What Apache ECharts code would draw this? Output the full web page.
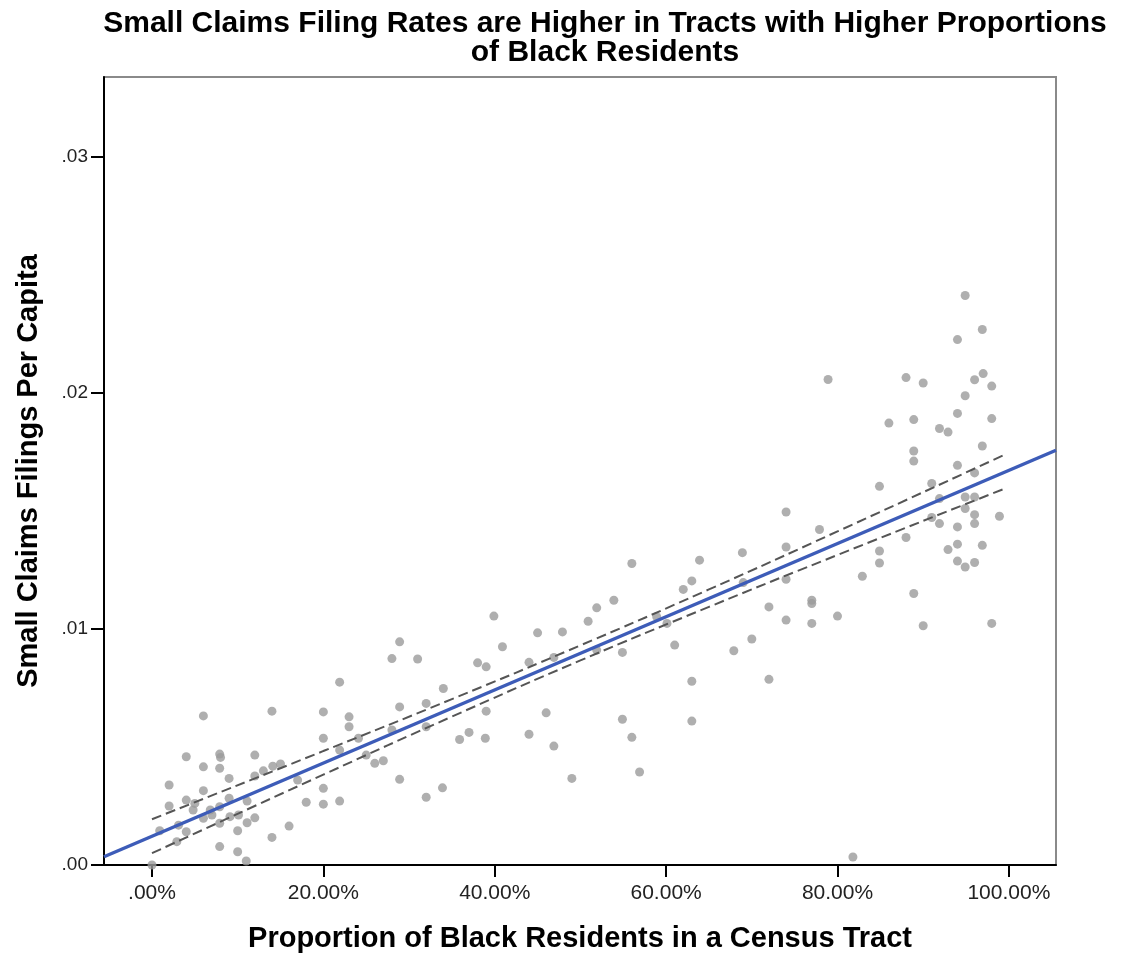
<!DOCTYPE html>
<html>
<head>
<meta charset="utf-8">
<script src="https://cdn.jsdelivr.net/npm/echarts@6/dist/echarts.min.js"></script>
<style>
html,body{margin:0;padding:0;background:#fff;}
#chart{width:1140px;height:959px;}
</style>
</head>
<body>
<div id="chart"></div>
<script>
// Scatter data: proportion of Black residents (x) and filings per capita (y)
const xVals = [
0.000,0.009,0.020,0.020,0.029,0.031,0.040,0.040,0.040,0.048,
0.050,0.060,0.060,0.060,0.060,0.068,0.070,0.079,0.080,0.079,
0.079,0.079,0.079,0.090,0.090,0.091,0.100,0.100,0.101,0.111,
0.111,0.110,0.120,0.120,0.120,0.130,0.140,0.141,0.140,0.150,
0.160,0.170,0.180,0.200,0.200,0.200,0.200,0.219,0.219,0.219,
0.230,0.230,0.241,0.250,0.260,0.270,0.280,0.280,0.289,0.289,
0.289,0.310,0.320,0.320,0.320,0.340,0.339,0.359,0.370,0.380,
0.390,0.390,0.389,0.399,0.409,0.440,0.440,0.450,0.460,0.469,
0.469,0.479,0.490,0.509,0.519,0.519,0.539,0.549,0.549,0.560,
0.560,0.569,0.589,0.601,0.610,0.620,0.630,0.639,0.630,0.630,
0.679,0.689,0.690,0.700,0.720,0.720,0.740,0.740,0.740,0.740,
0.770,0.770,0.770,0.779,0.789,0.800,0.818,0.829,0.849,0.849,
0.849,0.860,0.880,0.880,0.889,0.889,0.889,0.889,0.900,0.900,
0.910,0.910,0.919,0.919,0.919,0.929,0.929,0.940,0.940,0.940,
0.940,0.940,0.940,0.949,0.949,0.949,0.949,0.949,0.960,0.960,
0.960,0.960,0.960,0.960,0.969,0.970,0.969,0.969,0.980,0.980,
0.980,0.989
];
const yVals = [
0.00000,0.00145,0.00339,0.00250,0.00099,0.00169,0.00459,0.00275,0.00141,0.00233,
0.00261,0.00632,0.00416,0.00315,0.00198,0.00233,0.00212,0.00470,0.00456,0.00410,
0.00247,0.00177,0.00078,0.00367,0.00283,0.00205,0.00145,0.00056,0.00212,0.00271,
0.00179,0.00017,0.00466,0.00377,0.00200,0.00399,0.00652,0.00419,0.00117,0.00428,
0.00165,0.00360,0.00266,0.00649,0.00537,0.00325,0.00258,0.00487,0.00271,0.00775,
0.00628,0.00586,0.00537,0.00466,0.00431,0.00442,0.00875,0.00572,0.00946,0.00670,
0.00363,0.00873,0.00685,0.00586,0.00287,0.00748,0.00327,0.00532,0.00562,0.00857,
0.00840,0.00652,0.00537,0.01055,0.00925,0.00859,0.00554,0.00984,0.00645,0.00880,
0.00504,0.00988,0.00367,0.01033,0.01090,0.00911,0.01122,0.00901,0.00618,0.01278,
0.00541,0.00394,0.01052,0.01024,0.00932,0.01168,0.01204,0.01292,0.00779,0.00610,
0.00908,0.01324,0.01197,0.00958,0.01094,0.00787,0.01496,0.01348,0.01211,0.01038,
0.01122,0.01108,0.01024,0.01422,0.02058,0.01055,0.00034,0.01224,0.01605,0.01331,
0.01280,0.01873,0.02066,0.01388,0.01888,0.01755,0.01712,0.01151,0.02043,0.01014,
0.01617,0.01473,0.01850,0.01553,0.01447,0.01835,0.01337,0.02227,0.01914,0.01694,
0.01433,0.01360,0.01288,0.02414,0.01989,0.01560,0.01511,0.01263,0.02057,0.01662,
0.01560,0.01485,0.01447,0.01282,0.02270,0.02083,0.01776,0.01355,0.02030,0.01892,
0.01024,0.01478
];
// Linear fit line and 95% mean confidence band
const fitX = [-0.056, 1.055];
const fitY = [0.00035, 0.01758];
const ciX = [0.000, 0.200, 0.350, 0.500, 0.650, 0.800, 0.995];
const ciUpper = [0.00194, 0.00483, 0.00703, 0.00931, 0.01168, 0.01414, 0.01739];
const ciLower = [0.00050, 0.00383, 0.00629, 0.00867, 0.01094, 0.01314, 0.01595];
// Tick values
const xTicks = [0, 0.2, 0.4, 0.6, 0.8, 1.0];
const yTicks = [0, 0.01, 0.02, 0.03];

const pts = xVals.map((x, i) => [x, yVals[i]]);
const fitPts = fitX.map((x, i) => [x, fitY[i]]);
const upPts = ciX.map((x, i) => [x, ciUpper[i]]);
const loPts = ciX.map((x, i) => [x, ciLower[i]]);

const FONT = '"Liberation Sans", Arial, sans-serif';
const chart = echarts.init(document.getElementById('chart'), null, {renderer: 'canvas'});
chart.setOption({
  animation: false,
  backgroundColor: '#ffffff',
  title: {
    text: 'Small Claims Filing Rates are Higher in Tracts with Higher Proportions\nof Black Residents',
    left: 600, top: 4, textAlign: 'center',
    textStyle: {fontFamily: FONT, fontWeight: 'bold', fontSize: 30, lineHeight: 29, color: '#000'}
  },
  grid: {left: 104, right: 84, top: 77, bottom: 94, show: true, borderColor: '#8a8a8a', borderWidth: 2, backgroundColor: 'transparent'},
  xAxis: {
    type: 'value', min: -0.056, max: 1.055,
    name: 'Proportion of Black Residents in a Census Tract',
    nameLocation: 'middle', nameGap: 59,
    nameTextStyle: {fontFamily: FONT, fontWeight: 'bold', fontSize: 29, color: '#000'},
    axisLine: {show: true, onZero: false, lineStyle: {color: '#000', width: 2}},
    axisTick: {show: true, length: 12, customValues: xTicks, lineStyle: {color: '#000', width: 2}},
    axisLabel: {show: true, margin: 18, customValues: xTicks, fontFamily: FONT, fontSize: 21, color: '#222',
      formatter: v => { const s = (v * 100).toFixed(2) + '%'; return s.startsWith('0') ? s.slice(1) : s; }},
    splitLine: {show: false}
  },
  yAxis: {
    type: 'value', min: 0, max: 0.0334,
    name: 'Small Claims Filings Per Capita',
    nameLocation: 'middle', nameGap: 61, nameRotate: 90,
    nameTextStyle: {fontFamily: FONT, fontWeight: 'bold', fontSize: 29, color: '#000'},
    axisLine: {show: true, onZero: false, lineStyle: {color: '#000', width: 2}},
    axisTick: {show: true, length: 13, customValues: yTicks, lineStyle: {color: '#000', width: 2}},
    axisLabel: {show: true, margin: 16, customValues: yTicks, fontFamily: FONT, fontSize: 19, color: '#222',
      formatter: v => '.' + String(Math.round(v * 100)).padStart(2, '0')},
    splitLine: {show: false}
  },
  series: [
    {type: 'scatter', data: pts, symbol: 'circle', symbolSize: 9, itemStyle: {color: '#9b9b9b'}, z: 2},
    {type: 'line', data: upPts, smooth: true, showSymbol: false, symbol: 'none',
      lineStyle: {color: '#555', width: 2, type: [10, 5]}, z: 3},
    {type: 'line', data: loPts, smooth: true, showSymbol: false, symbol: 'none',
      lineStyle: {color: '#555', width: 2, type: [10, 5]}, z: 3},
    {type: 'line', data: fitPts, showSymbol: false, symbol: 'none',
      lineStyle: {color: '#3d5cb8', width: 3.5}, z: 4}
  ]
});
</script>
</body>
</html>
